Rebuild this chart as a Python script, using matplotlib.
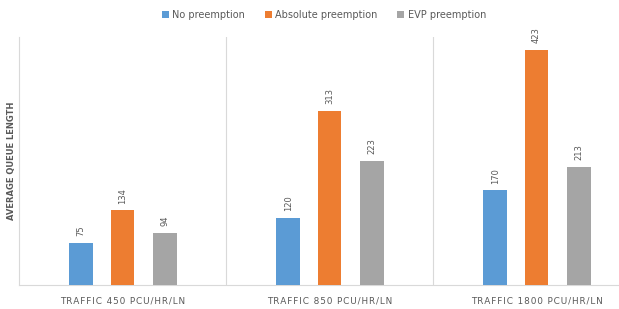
import matplotlib
matplotlib.use("Agg")
import matplotlib.pyplot as plt
import numpy as np

categories = ["TRAFFIC 450 PCU/HR/LN", "TRAFFIC 850 PCU/HR/LN", "TRAFFIC 1800 PCU/HR/LN"]
series_names = ["No preemption", "Absolute preemption", "EVP preemption"]
no_pre = [75, 120, 170]
abs_pre = [134, 313, 423]
evp_pre = [94, 223, 213]
colors = ["#5B9BD5", "#ED7D31", "#A5A5A5"]

fig = plt.figure(figsize=(6.19, 3.09), dpi=100)
ax = fig.add_axes([19/619, (309-285)/309, 621/619, (285-37)/309])

x = np.arange(len(categories))
w = 0.115
offs = [-0.2, 0.0, 0.205]
for vals, name, c, o in zip([no_pre, abs_pre, evp_pre], series_names, colors, offs):
    bars = ax.bar(x + o, vals, width=w, color=c, label=name, zorder=3)
    for b, v in zip(bars, vals):
        ax.annotate(str(v), (b.get_x() + b.get_width()/2, v), xytext=(0, 5),
                    textcoords="offset points", rotation=90, ha="center", va="bottom",
                    fontsize=6, color="#595959")

ax.set_xlim(-0.5, 2.5)
ax.set_ylim(0, 446)
ax.set_yticks([])
ax.set_xticks(x)
ax.set_xticklabels(["\u200a".join(list(c)) for c in categories], fontsize=6.4, color="#595959")
ax.tick_params(axis="x", length=0, pad=8)
for sep in [0.5, 1.5]:
    ax.axvline(sep, color="#D9D9D9", lw=0.8, zorder=1)
for s in ["top", "right"]:
    ax.spines[s].set_visible(False)
ax.spines["left"].set_color("#D9D9D9")
ax.spines["bottom"].set_color("#D9D9D9")
ax.set_ylabel("AVERAGE QUEUE LENGTH", fontsize=6, color="#595959", fontweight="bold", labelpad=2)

fig.legend(loc="center", bbox_to_anchor=(324/619, 1 - 15/309), ncol=3, frameon=False,
           fontsize=7, handlelength=0.7, handleheight=0.7, handletextpad=0.4,
           columnspacing=2.0, labelcolor="#595959")

fig.savefig("out.png", dpi=100)
